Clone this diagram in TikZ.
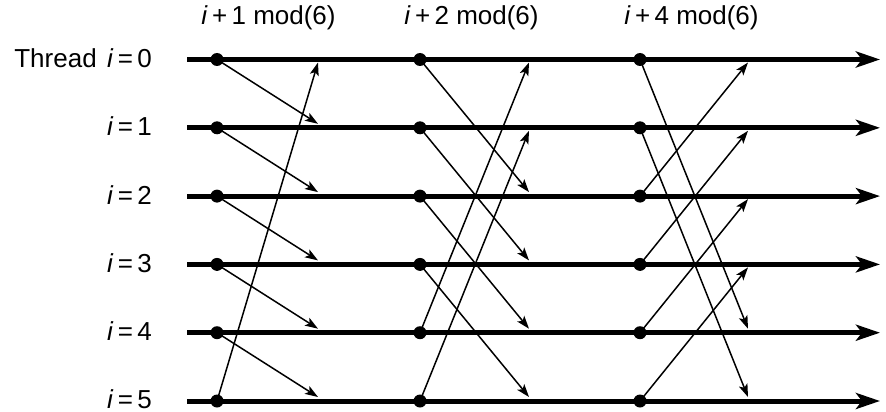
\documentclass[tikz,border=0pt]{standalone}
\usepackage{fontspec}
\setmainfont{Liberation Sans}
\usetikzlibrary{arrows.meta}
\tikzset{
  thread/.style={line width=5pt, -{Stealth[length=24pt,width=16pt,inset=6pt]}},
  dot/.style={circle, fill=black, inner sep=0pt, minimum size=13pt},
  msg/.style={line width=1.5pt, -{Stealth[length=13pt,width=9pt,inset=3pt]}},
  lbl/.style={font=\fontsize{26}{30}\selectfont, inner sep=0pt},
}
\begin{document}
\begin{tikzpicture}[x=1pt,y=-1pt]
    \useasboundingbox (0,0) rectangle (886,412);

    % Stage labels
    \node[lbl] (h1) at (268.5,18) {\textit{i}\,+\,1 mod(6)};
    \node[lbl] (h2) at (471.5,18) {\textit{i}\,+\,2 mod(6)};
    \node[lbl] (h4) at (691.5,18) {\textit{i}\,+\,4 mod(6)};

    % Thread lines and labels
    \foreach \i in {0,...,5} {
        \coordinate (s\i) at (187,{59.5+68.3*\i});
        \coordinate (e\i) at (880,{59.5+68.3*\i});
        \draw[thread] (s\i) -- (e\i);
    }
    \node[lbl, anchor=east] (t0) at (152,58) {Thread\hspace{0.4em}\textit{i}\,=\,0};
    \foreach \i in {1,...,5}
        \node[lbl, anchor=east] (t\i) at (152,{58+68.3*\i}) {\textit{i}\,=\,\i};

    % Dots
    \foreach \c/\x in {a/217,b/420,c/640}
        \foreach \i in {0,...,5}
            \node[dot] (\c\i) at (\x,{59.5+68.3*\i}) {};

    % Messages i -> i+k mod(6)
    \foreach \c/\k/\x in {a/1/318,b/2/529,c/4/748} {
        \foreach \i in {0,...,5} {
            \pgfmathtruncatemacro\j{mod(\i+\k,6)}
            \pgfmathsetmacro\yy{59.5+68.3*\j+(\j>\i ? -4 : 3)}
            \coordinate (m\c\i) at (\x,\yy);
            \draw[msg] (\c\i.center) -- (m\c\i);
        }
    }
\end{tikzpicture}
\end{document}
